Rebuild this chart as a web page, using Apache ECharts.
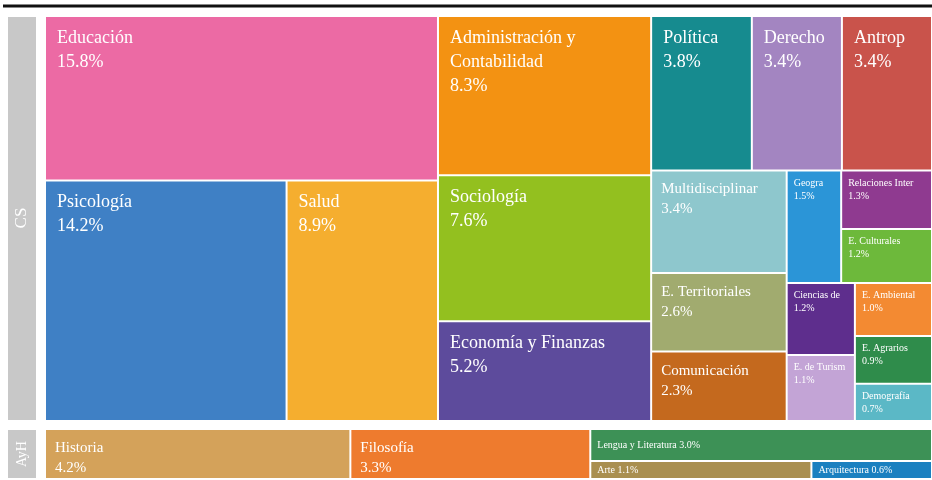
<!DOCTYPE html>
<html>
<head>
<meta charset="utf-8">
<script src="https://cdn.jsdelivr.net/npm/echarts@6/dist/echarts.min.js"></script>
<style>
html, body { margin: 0; padding: 0; background: #fff; }
#chart { width: 932px; height: 480px; }
</style>
</head>
<body>
<div id="chart"></div>
<script>
// CS: Ciencias Sociales
const csNames = ['Educación', 'Psicología', 'Salud', 'Administración y Contabilidad', 'Sociología',
  'Economía y Finanzas', 'Política', 'Derecho', 'Antrop', 'Multidisciplinar', 'E. Territoriales',
  'Comunicación', 'Geogra', 'Relaciones Inter', 'E. Culturales', 'Ciencias de', 'E. de Turismo',
  'E. Ambiental', 'E. Agrarios', 'Demografía'];
const csValues = [15.8, 14.2, 8.9, 8.3, 7.6, 5.2, 3.8, 3.4, 3.4, 3.4, 2.6, 2.3, 1.5, 1.3, 1.2, 1.2, 1.1, 1.0, 0.9, 0.7];

// AyH: Artes y Humanidades
const ahNames = ['Historia', 'Filosofía', 'Lengua y Literatura', 'Arte', 'Arquitectura'];
const ahValues = [4.2, 3.3, 3.0, 1.1, 0.6];

// colores y tamaño de letra por celda
const csColors = ['#ec6aa4', '#3f80c5', '#f5ae2f', '#f39212', '#93c01f', '#5d4b9c', '#168b8f', '#a385c1',
  '#c9534b', '#8ec7cd', '#a1ab6f', '#c4691e', '#2b95d7', '#8f3a90', '#6db93b', '#5e2e8d', '#c3a4d6',
  '#f38a32', '#2f8c4b', '#5bb8c6'];
const csFont = [18, 18, 18, 18, 18, 18, 18, 18, 18, 15, 15, 15, 10, 10, 10, 10, 10, 10, 10, 10];
const ahColors = ['#d4a25a', '#ee7b2e', '#3d9156', '#a98f50', '#1b80c0'];
const ahFont = [15, 15, 10, 10, 10];

// orden de las franjas: 'h' = lado a lado, 'v' = apiladas (los tamaños salen de los valores)
const csLayout = ['h', ['v', 0, ['h', 1, 2]], ['v', 3, 4, 5],
  ['v', ['h', 6, 7, 8], ['h', ['v', 9, 10, 11], ['v', ['h', 12, ['v', 13, 14]], ['h', ['v', 15, 16], ['v', 17, 18, 19]]]]]];
const ahLayout = ['h', 0, 1, ['v', 2, ['h', 3, 4]]];

function total(node, values) {
  if (typeof node === 'number') return values[node];
  return node.slice(1).reduce((s, n) => s + total(n, values), 0);
}

function place(node, values, x0, y0, x1, y1, out) {
  if (typeof node === 'number') { out[node] = [x0, y0, x1, y1]; return; }
  const sum = total(node, values);
  let pos = node[0] === 'h' ? x0 : y0;
  node.slice(1).forEach(k => {
    const span = (node[0] === 'h' ? x1 - x0 : y1 - y0) * total(k, values) / sum;
    if (node[0] === 'h') place(k, values, pos, y0, pos + span, y1, out);
    else place(k, values, x0, pos, x1, pos + span, out);
    pos += span;
  });
}

function cells(names, values, layout) {
  const boxes = [];
  place(layout, values, 0, 0, 1, 1, boxes);
  return boxes.map((b, i) => ({ name: names[i], value: b.concat(values[i]) }));
}

function makeRender(names, values, colors, fonts) {
  return function (params, api) {
    const i = params.dataIndex;
    const a = api.coord([api.value(0), api.value(1)]);
    const b = api.coord([api.value(2), api.value(3)]);
    const x = a[0] + 1, y = a[1] + 1, w = b[0] - a[0] - 2, h = b[1] - a[1] - 2;
    const fs = fonts[i];
    const lh = Math.round(fs * 1.34);
    const padX = Math.round(fs * 0.6), padY = Math.round(fs * 0.5);
    const pct = values[i].toFixed(1) + '%';
    const inline = h < lh * 2 + padY;
    return {
      type: 'rect',
      shape: { x: x, y: y, width: w, height: h },
      style: { fill: colors[i] },
      textContent: {
        style: {
          text: inline ? names[i] + ' ' + pct : names[i] + '\n' + pct,
          fill: '#fff',
          fontFamily: 'Liberation Serif',
          fontSize: fs,
          lineHeight: lh,
          width: w - padX * 1.5,
          overflow: fs > 12 ? 'break' : 'truncate',
          ellipsis: ''
        }
      },
      textConfig: inline ? { position: 'insideLeft', distance: padX } : { position: [padX, padY] }
    };
  };
}

const chart = echarts.init(document.getElementById('chart'));
chart.setOption({
  animation: false,
  grid: [
    { left: 45, top: 16, width: 888, height: 405 },
    { left: 45, top: 429, width: 888, height: 50 }
  ],
  xAxis: [
    { type: 'value', gridIndex: 0, min: 0, max: 1, show: false },
    { type: 'value', gridIndex: 1, min: 0, max: 1, show: false }
  ],
  yAxis: [
    { type: 'value', gridIndex: 0, min: 0, max: 1, inverse: true, show: false },
    { type: 'value', gridIndex: 1, min: 0, max: 1, inverse: true, show: false }
  ],
  graphic: [
    { type: 'line', shape: { x1: 3, y1: 6, x2: 932, y2: 6 }, style: { stroke: '#111', lineWidth: 3 } },
    { type: 'rect', shape: { x: 8, y: 17, width: 28, height: 403 }, style: { fill: '#c8c8c8' } },
    { type: 'rect', shape: { x: 8, y: 430, width: 28, height: 48 }, style: { fill: '#c8c8c8' } },
    { type: 'text', x: 22, y: 218, rotation: Math.PI / 2,
      style: { text: 'CS', fill: '#fff', font: '17px "Liberation Serif"', align: 'center', verticalAlign: 'middle' } },
    { type: 'text', x: 22, y: 454, rotation: Math.PI / 2,
      style: { text: 'AyH', fill: '#fff', font: '14px "Liberation Serif"', align: 'center', verticalAlign: 'middle' } }
  ],
  series: [
    {
      type: 'custom', name: 'CS', coordinateSystem: 'cartesian2d', xAxisIndex: 0, yAxisIndex: 0,
      renderItem: makeRender(csNames, csValues, csColors, csFont),
      data: cells(csNames, csValues, csLayout)
    },
    {
      type: 'custom', name: 'AyH', coordinateSystem: 'cartesian2d', xAxisIndex: 1, yAxisIndex: 1,
      renderItem: makeRender(ahNames, ahValues, ahColors, ahFont),
      data: cells(ahNames, ahValues, ahLayout)
    }
  ]
});
</script>
</body>
</html>
